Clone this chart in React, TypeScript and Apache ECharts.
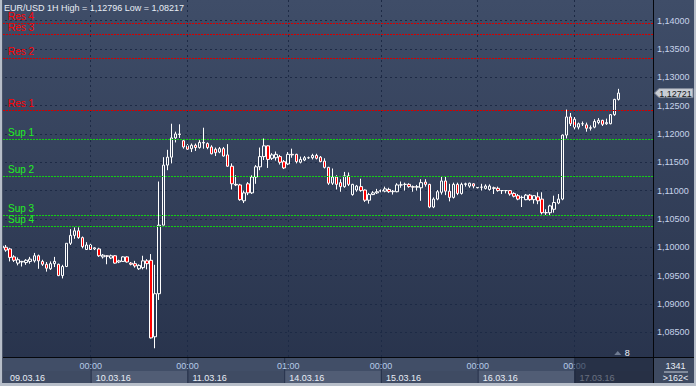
import React, { useEffect, useRef } from "react";
import * as echarts from "echarts";

const FONT = '"Liberation Sans", Arial, sans-serif';

const SYMBOL = "EUR/USD";
const TIMEFRAME = "1H";
const BAR_COUNTER = "1341";

const dayLabels = ["09.03.16", "10.03.16", "11.03.16", "14.03.16", "15.03.16", "16.03.16", "17.03.16"];
const dayFirstHour = [2, 0, 0, 0, 0, 0, 0];
const dayBarCount = [22, 24, 24, 24, 24, 24, 12];
const EMPTY_SLOTS = 8;

const timeMarks = ["10.03.16 00:00", "11.03.16 00:00", "14.03.16 01:00", "15.03.16 00:00", "16.03.16 00:00", "17.03.16 00:00"];

const resLevels = [1.12417, 1.13335, 1.13758, 1.13952];
const supLevels = [1.11905, 1.11254, 1.10566, 1.10371];

const PRICE_MIN = 1.08063;
const PRICE_MAX = 1.14364;

const opens = [
  1.0999, 1.1000, 1.0997, 1.0983, 1.0972, 1.0974, 1.0973, 1.0975, 1.0976, 1.0985,
  1.0975, 1.0970, 1.0962, 1.0971, 1.0970, 1.0950, 1.0966, 1.1007, 1.1021, 1.1029,
  1.1017, 1.0996, 1.1004, 1.0997, 1.0997, 1.0983, 1.0985, 1.0981, 1.0985, 1.0974,
  1.0975, 1.0983, 1.0972, 1.0971, 1.0962, 1.0964, 1.0976, 1.0977, 1.0842, 1.0918,
  1.1039, 1.1145, 1.1159, 1.1193, 1.1199, 1.1188, 1.1179, 1.1174, 1.1180, 1.1176,
  1.1184, 1.1183, 1.1177, 1.1173, 1.1168, 1.1174, 1.1163, 1.1143, 1.1111, 1.1110,
  1.1082, 1.1112, 1.1096, 1.1124, 1.1142, 1.1160, 1.1179, 1.1157, 1.1158, 1.1160,
  1.1151, 1.1147, 1.1164, 1.1164, 1.1150, 1.1154, 1.1158, 1.1158, 1.1162, 1.1159,
  1.1152, 1.1141, 1.1113, 1.1124, 1.1114, 1.1107, 1.1126, 1.1093, 1.1101, 1.1107,
  1.1101, 1.1083, 1.1093, 1.1096, 1.1099, 1.1099, 1.1102, 1.1098, 1.1098, 1.1110,
  1.1111, 1.1111, 1.1107, 1.1106, 1.1105, 1.1115, 1.1111, 1.1071, 1.1085, 1.1097,
  1.1117, 1.1099, 1.1088, 1.1111, 1.1095, 1.1111, 1.1108, 1.1112, 1.1105, 1.1106,
  1.1104, 1.1102, 1.1105, 1.1104, 1.1100, 1.1100, 1.1100, 1.1095, 1.1091, 1.1088,
  1.1084, 1.1092, 1.1084, 1.1089, 1.1085, 1.1061, 1.1061, 1.1067, 1.1078, 1.1085,
  1.1198, 1.1230, 1.1226, 1.1212, 1.1218, 1.1216, 1.1210, 1.1212, 1.1220, 1.1224,
  1.1218, 1.1218, 1.1234, 1.1261,
];

const highs = [
  1.1005, 1.1004, 1.0999, 1.0986, 1.0982, 1.0976, 1.0979, 1.0983, 1.0990, 1.0987,
  1.0978, 1.0974, 1.0975, 1.0983, 1.0971, 1.0969, 1.1007, 1.1032, 1.1035, 1.1035,
  1.1019, 1.1009, 1.1006, 1.1000, 1.0999, 1.0988, 1.0986, 1.0987, 1.0986, 1.0978,
  1.0984, 1.0984, 1.0974, 1.0976, 1.0970, 1.0985, 1.0979, 1.0988, 1.0969, 1.1116,
  1.1159, 1.1172, 1.1218, 1.1204, 1.1217, 1.1190, 1.1182, 1.1183, 1.1183, 1.1189,
  1.1211, 1.1185, 1.1180, 1.1176, 1.1177, 1.1177, 1.1182, 1.1148, 1.1127, 1.1112,
  1.1100, 1.1115, 1.1127, 1.1145, 1.1176, 1.1192, 1.1180, 1.1166, 1.1169, 1.1163,
  1.1154, 1.1168, 1.1174, 1.1165, 1.1160, 1.1161, 1.1160, 1.1165, 1.1165, 1.1161,
  1.1157, 1.1142, 1.1139, 1.1127, 1.1120, 1.1133, 1.1132, 1.1112, 1.1110, 1.1121,
  1.1102, 1.1096, 1.1099, 1.1103, 1.1102, 1.1107, 1.1105, 1.1101, 1.1113, 1.1116,
  1.1114, 1.1113, 1.1109, 1.1110, 1.1120, 1.1120, 1.1112, 1.1088, 1.1101, 1.1124,
  1.1124, 1.1112, 1.1114, 1.1114, 1.1114, 1.1114, 1.1114, 1.1113, 1.1107, 1.1112,
  1.1111, 1.1111, 1.1107, 1.1107, 1.1101, 1.1101, 1.1101, 1.1097, 1.1094, 1.1091,
  1.1094, 1.1094, 1.1092, 1.1097, 1.1097, 1.1067, 1.1075, 1.1091, 1.1094, 1.1199,
  1.1243, 1.1237, 1.1230, 1.1220, 1.1222, 1.1220, 1.1215, 1.1226, 1.1228, 1.1225,
  1.1227, 1.1235, 1.1262, 1.12796,
];

const lows = [
  1.0995, 1.0992, 1.0975, 1.0974, 1.0968, 1.0966, 1.0969, 1.0971, 1.0973, 1.0962,
  1.0967, 1.0957, 1.0960, 1.0965, 1.0949, 1.0945, 1.0965, 1.1004, 1.1015, 1.1015,
  1.0998, 1.0996, 1.0995, 1.0995, 1.0983, 1.0980, 1.0970, 1.0979, 1.0971, 1.0972,
  1.0974, 1.0973, 1.0968, 1.0964, 1.0960, 1.0961, 1.0961, 1.0839, 1.08217, 1.0907,
  1.1039, 1.1136, 1.1148, 1.1185, 1.1193, 1.1174, 1.1172, 1.1168, 1.1170, 1.1174,
  1.1174, 1.1173, 1.1164, 1.1161, 1.1166, 1.1160, 1.1142, 1.1102, 1.1108, 1.1082,
  1.1078, 1.1092, 1.1094, 1.1112, 1.1136, 1.1154, 1.1140, 1.1154, 1.1153, 1.1146,
  1.1138, 1.1145, 1.1158, 1.1148, 1.1148, 1.1152, 1.1156, 1.1155, 1.1155, 1.1150,
  1.1139, 1.1110, 1.1110, 1.1102, 1.1098, 1.1105, 1.1108, 1.1091, 1.1098, 1.1098,
  1.1080, 1.1077, 1.1092, 1.1094, 1.1097, 1.1097, 1.1096, 1.1093, 1.1097, 1.1105,
  1.1100, 1.1105, 1.1098, 1.1100, 1.1082, 1.1107, 1.1069, 1.1069, 1.1083, 1.1093,
  1.1092, 1.1081, 1.1086, 1.1092, 1.1093, 1.1107, 1.1105, 1.1104, 1.1104, 1.1100,
  1.1102, 1.1100, 1.1094, 1.1098, 1.1094, 1.1095, 1.1091, 1.1088, 1.1083, 1.1071,
  1.1083, 1.1082, 1.1077, 1.1076, 1.1058, 1.1057, 1.1057, 1.1061, 1.1076, 1.1083,
  1.1192, 1.1214, 1.1208, 1.1208, 1.1214, 1.1204, 1.1206, 1.1210, 1.1217, 1.1214,
  1.1216, 1.1217, 1.1232, 1.1259,
];

const closes = [
  1.1002, 1.0995, 1.0982, 1.0977, 1.0978, 1.0975, 1.0977, 1.0979, 1.0985, 1.0976,
  1.0970, 1.0963, 1.0971, 1.0975, 1.0950, 1.0966, 1.1007, 1.1021, 1.1029, 1.1017,
  1.1001, 1.1004, 1.0996, 1.0999, 1.0985, 1.0986, 1.0984, 1.0985, 1.0972, 1.0976,
  1.0983, 1.0974, 1.0970, 1.0967, 1.0968, 1.0976, 1.0971, 1.0840, 1.0918, 1.1039,
  1.1145, 1.1159, 1.1193, 1.1200, 1.1200, 1.1177, 1.1173, 1.1180, 1.1176, 1.1185,
  1.1185, 1.1176, 1.1165, 1.1167, 1.1174, 1.1161, 1.1143, 1.1112, 1.1110, 1.1084,
  1.1096, 1.1096, 1.1124, 1.1142, 1.1160, 1.1179, 1.1155, 1.1163, 1.1164, 1.1150,
  1.1140, 1.1164, 1.1163, 1.1151, 1.1155, 1.1158, 1.1158, 1.1162, 1.1157, 1.1151,
  1.1141, 1.1113, 1.1124, 1.1111, 1.1107, 1.1126, 1.1111, 1.1111, 1.1108, 1.1100,
  1.1083, 1.1093, 1.1096, 1.1098, 1.1100, 1.1103, 1.1098, 1.1099, 1.1110, 1.1110,
  1.1111, 1.1107, 1.1106, 1.1107, 1.1114, 1.1111, 1.1071, 1.1085, 1.1098, 1.1117,
  1.1099, 1.1088, 1.1111, 1.1095, 1.1111, 1.1112, 1.1113, 1.1108, 1.1106, 1.1106,
  1.1108, 1.1108, 1.1104, 1.1100, 1.1100, 1.1100, 1.1094, 1.1090, 1.1085, 1.1088,
  1.1092, 1.1084, 1.1091, 1.1082, 1.1061, 1.1061, 1.1073, 1.1079, 1.1085, 1.1198,
  1.1230, 1.1218, 1.1212, 1.1218, 1.1218, 1.1210, 1.1211, 1.1222, 1.1224, 1.1217,
  1.1220, 1.1234, 1.1261, 1.12721,
];

// ---------- derived ----------
const categories: string[] = [];
const dayStartIdx: number[] = [];
dayLabels.forEach((d, i) => {
  dayStartIdx.push(categories.length);
  for (let k = 0; k < dayBarCount[i]; k++) {
    const h = dayFirstHour[i] + k;
    categories.push(`${d} ${String(h).padStart(2, "0")}:00`);
  }
});
for (let k = 0; k < EMPTY_SLOTS; k++) categories.push(`+${k + 1}`);

const fmtPrice = (v: number) => v.toFixed(5).replace(".", ",");

const GRID_COLOR = "#1d2a45";
const RES_COLOR = "#d40000";
const SUP_COLOR = "#12d012";

export default function App() {
  const ref = useRef<HTMLDivElement>(null);

  useEffect(() => {
    const el = ref.current;
    if (!el) return;
    const chart = echarts.init(el, null, { renderer: "svg", width: 696, height: 386 });

    const candleData = opens.map((o, i) => [o, closes[i], lows[i], highs[i]]);
    const gridLine = { color: GRID_COLOR, type: [2, 3] as any, width: 1 };

    const markData: any[] = [];
    timeMarks.forEach((c) => markData.push({ xAxis: c, lineStyle: gridLine, label: { show: false } }));
    resLevels.forEach((v, i) =>
      markData.push({
        yAxis: v,
        name: `Res ${i + 1}`,
        lineStyle: { color: RES_COLOR, type: [2, 1], width: 1 },
        label: { show: true, position: "insideStartTop", formatter: "{b}", color: "#ff0000", fontSize: 10, fontFamily: FONT, distance: [8, 2] },
      })
    );
    supLevels.forEach((v, i) =>
      markData.push({
        yAxis: v,
        name: `Sup ${i + 1}`,
        lineStyle: { color: SUP_COLOR, type: [2, 1], width: 1 },
        label: { show: true, position: "insideStartTop", formatter: "{b}", color: "#22f022", fontSize: 10, fontFamily: FONT, distance: [8, 2] },
      })
    );

    const lastDay = dayLabels.length - 1;

    const option: any = {
      animation: false,
      backgroundColor: {
        type: "linear", x: 0, y: 0, x2: 0, y2: 1,
        colorStops: [
          { offset: 0, color: "#3f4d68" },
          { offset: 1, color: "#27324b" },
        ],
      },
      grid: { left: 0, top: 0, right: 43, bottom: 29, show: false },
      xAxis: {
        type: "category",
        data: categories,
        boundaryGap: true,
        axisLine: { show: false },
        axisTick: { show: false },
        splitLine: { show: false },
        axisLabel: {
          interval: (_i: number, v: string) => timeMarks.includes(v),
          formatter: (v: string) => v.split(" ")[1] || "",
          color: "#b6cbe8",
          fontSize: 9,
          fontFamily: FONT,
          margin: 4,
        },
      },
      yAxis: {
        type: "value",
        position: "right",
        min: PRICE_MIN,
        max: PRICE_MAX,
        splitNumber: 12,
        axisLine: { show: false },
        axisTick: { show: false },
        splitLine: { show: true, showMinLine: false, showMaxLine: false, lineStyle: gridLine },
        axisLabel: {
          showMinLabel: false,
          showMaxLabel: false,
          formatter: (v: number) => fmtPrice(v),
          color: "#c6d3ea",
          fontSize: 9,
          fontFamily: FONT,
          margin: 4,
          align: "left",
        },
      },
      series: [
        {
          type: "custom",
          name: "strip",
          z: -1,
          silent: true,
          clip: false,
          data: dayLabels.map((_, i) => [dayStartIdx[i], PRICE_MIN, i]),
          encode: { x: 0, y: 1 },
          renderItem: (params: any, api: any) => {
            const i = api.value(2) as number;
            const cs = params.coordSys;
            const xs = api.coord([dayStartIdx[i], PRICE_MIN])[0];
            const x0 = i === 0 ? cs.x : xs;
            const x1 = i === lastDay ? cs.x + cs.width : api.coord([dayStartIdx[i + 1], PRICE_MIN])[0];
            const top = cs.y + cs.height + 1;
            const rowY = top + 13;
            return {
              type: "group",
              children: [
                { type: "rect", shape: { x: x0, y: top, width: x1 - x0, height: 13 }, style: { fill: "#414e67" } },
                { type: "rect", shape: { x: x0, y: rowY, width: x1 - x0, height: 12 }, style: { fill: i % 2 === 0 ? "#3f4b63" : "#515d75" } },
                { type: "line", shape: { x1: x0 + 0.5, y1: top, x2: x0 + 0.5, y2: rowY + 12 }, style: { stroke: "#26314a", lineWidth: 1 } },
                {
                  type: "text",
                  x: xs + (i === 0 ? 8 : 5),
                  y: rowY + 6.5,
                  style: { text: dayLabels[i], fill: "#e8edf6", fontSize: 9, fontFamily: FONT, align: "left", verticalAlign: "middle" },
                },
              ],
            };
          },
        },
        {
          type: "custom",
          name: "currentDay",
          z: 5,
          silent: true,
          clip: false,
          data: [[dayStartIdx[lastDay], PRICE_MIN]],
          encode: { x: 0, y: 1 },
          renderItem: (params: any, api: any) => {
            const cs = params.coordSys;
            const x0 = api.coord([api.value(0), PRICE_MIN])[0];
            const top = cs.y + cs.height + 1;
            return {
              type: "rect",
              shape: { x: x0, y: top, width: cs.x + cs.width - x0, height: 25 },
              style: { fill: "rgba(24,32,52,0.62)" },
            };
          },
        },
        {
          type: "line",
          name: "levels",
          data: closes,
          symbol: "none",
          silent: true,
          z: 1,
          lineStyle: { opacity: 0 },
          markLine: { symbol: "none", silent: true, precision: 5, animation: false, data: markData },
        },
        {
          type: "candlestick",
          name: SYMBOL,
          data: candleData,
          barWidth: 3,
          z: 2,
          itemStyle: {
            color: "rgba(0,0,0,0)",
            color0: "#ff0000",
            borderColor: "#ffffff",
            borderColor0: "#ffffff",
            borderColorDoji: "#ffffff",
            borderWidth: 1,
          },
        },
      ],
    };

    chart.setOption(option);

    const lastIdx = closes.length - 1;
    const lastY = chart.convertToPixel({ yAxisIndex: 0 }, closes[lastIdx]) as number;
    const lastX = chart.convertToPixel({ xAxisIndex: 0 }, categories[lastIdx]) as number;
    const maxHigh = Math.max(...highs);
    const minLow = Math.min(...lows);

    const txt = (x: number, y: number, text: string, fill: string, align = "left", size = 9) => ({
      type: "text",
      x,
      y,
      z: 100,
      silent: true,
      style: { text, fill, fontSize: size, fontFamily: FONT, align, verticalAlign: "middle" },
    });

    chart.setOption({
      graphic: {
        elements: [
          txt(4, 8, `${SYMBOL} ${TIMEFRAME} High = ${fmtPrice(maxHigh)} Low = ${fmtPrice(minLow)}`, "#e8edf5"),
          // separators
          { type: "line", z: 100, silent: true, shape: { x1: 653.5, y1: 0, x2: 653.5, y2: 383 }, style: { stroke: "#05070c", lineWidth: 1 } },
          { type: "line", z: 100, silent: true, shape: { x1: 0, y1: 357.5, x2: 694, y2: 357.5 }, style: { stroke: "#05070c", lineWidth: 1 } },
          // bottom-right box
          { type: "rect", z: 100, silent: true, shape: { x: 654, y: 358, width: 40, height: 25 }, style: { fill: "#3e4a61" } },
          txt(675.5, 365.5, BAR_COUNTER, "#e8edf5", "center"),
          { type: "line", z: 100, silent: true, shape: { x1: 664, y1: 372, x2: 688, y2: 372 }, style: { stroke: "#c5cdd9", lineWidth: 1 } },
          txt(675.5, 377.5, `>${categories.length}<`, "#e8edf5", "center"),
          // price tag
          {
            type: "polygon", z: 100, silent: true,
            shape: { points: [[654.5, lastY], [659, lastY - 4.5], [693, lastY - 4.5], [693, lastY + 4.5], [659, lastY + 4.5]] },
            style: { fill: "#c9cdd5", stroke: "#808898", lineWidth: 1 },
          },
          txt(675.5, lastY + 0.5, fmtPrice(closes[lastIdx]), "#141820", "center"),
          // shift marker
          {
            type: "polygon", z: 100, silent: true,
            shape: { points: [[lastX - 4.5, 355], [lastX - 1, 351], [lastX + 2.5, 355]] },
            style: { fill: "#6f7b92" },
          },
          txt(lastX + 6, 352.5, String(EMPTY_SLOTS), "#eef2f8"),
          // window frame
          { type: "rect", z: 101, silent: true, shape: { x: 0, y: 0, width: 2, height: 386 }, style: { fill: "#b7bec9" } },
          { type: "rect", z: 101, silent: true, shape: { x: 2, y: 0, width: 1, height: 383 }, style: { fill: "#4b5569" } },
          { type: "rect", z: 101, silent: true, shape: { x: 0, y: 383, width: 696, height: 3 }, style: { fill: "#b7bec9" } },
          { type: "rect", z: 101, silent: true, shape: { x: 694, y: 0, width: 2, height: 386 }, style: { fill: "#b7bec9" } },
        ],
      },
    });

    return () => chart.dispose();
  }, []);

  return <div ref={ref} style={{ position: "fixed", left: 0, top: 0, width: 696, height: 386 }} />;
}
